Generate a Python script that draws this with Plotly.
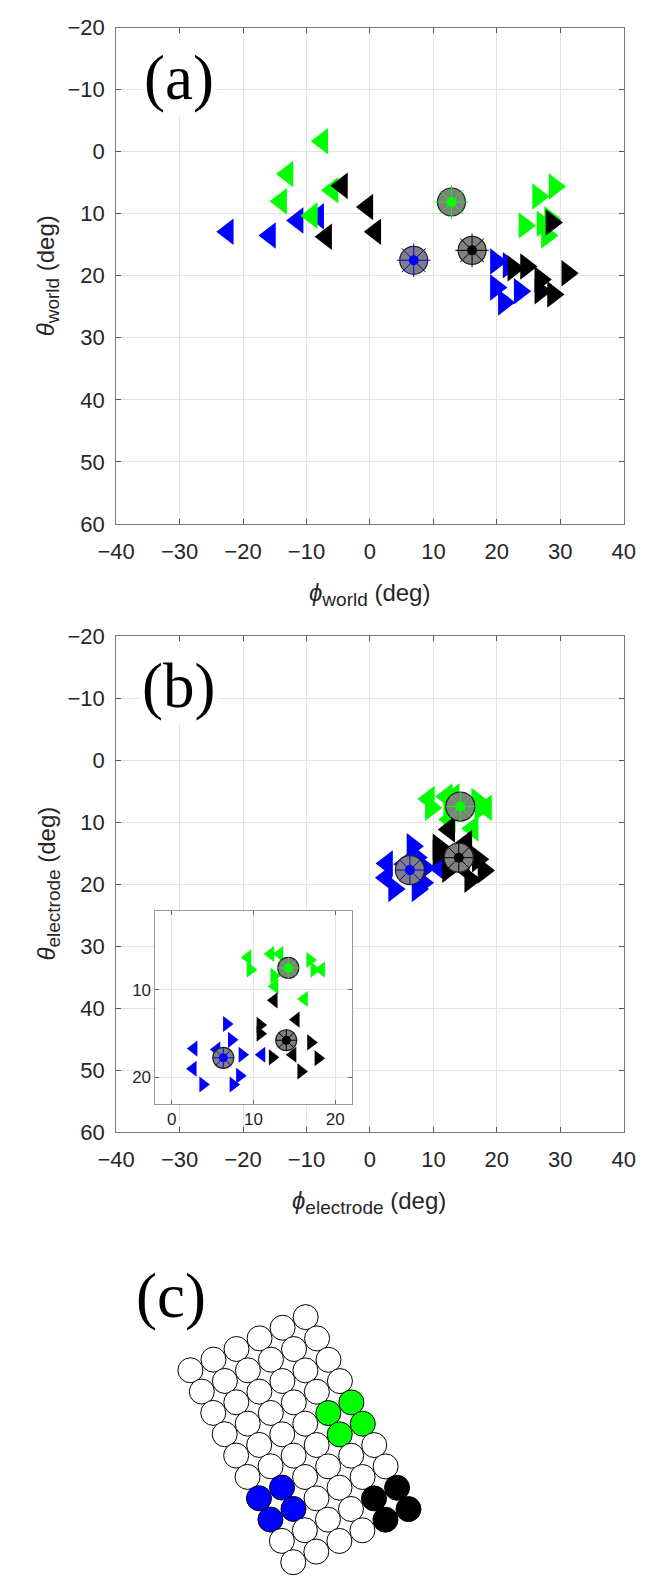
import plotly.graph_objects as go

# ---------------- data ----------------
# Panel (a): world coordinates (phi, theta) in degrees
A_BLUE_L_PHI = [-22.4, -15.75, -11.4, -8.15]
A_BLUE_L_THETA = [12.9, 13.5, 11.1, 10.4]
A_BLUE_R_PHI = [19.85, 21.85, 19.85, 23.6, 21.1]
A_BLUE_R_THETA = [17.7, 18.3, 21.9, 22.5, 24.3]
A_GREEN_L_PHI = [-7.5, -13.0, -14.0, -5.9, -9.15]
A_GREEN_L_THETA = [-1.7, 3.6, 8.0, 6.2, 10.3]
A_GREEN_R_PHI = [26.5, 29.1, 24.35, 27.2, 28.4, 27.9]
A_GREEN_R_THETA = [7.2, 5.6, 11.9, 11.6, 10.9, 13.5]
A_BLACK_L_PHI = [-4.4, -0.4, -6.9, 0.85]
A_BLACK_L_THETA = [5.5, 8.9, 13.7, 12.9]
A_BLACK_R_PHI = [28.6, 31.1, 22.6, 24.6, 26.85, 28.85, 26.85]
A_BLACK_R_THETA = [11.4, 19.6, 18.8, 18.5, 20.6, 23.0, 22.5]
A_CENTER_PHI = [6.9, 12.85, 16.1]      # blue, green, black
A_CENTER_THETA = [17.5, 8.1, 15.9]

# Panel (b) and inset: electrode coordinates (phi, theta) in degrees
B_BLUE_L_PHI = [2.7, 5.5, 11.0, 2.6]
B_BLUE_L_THETA = [16.7, 16.8, 17.4, 19.0]
B_BLUE_R_PHI = [6.7, 7.3, 8.6, 3.8, 8.3, 7.5]
B_BLUE_R_THETA = [13.9, 15.7, 17.4, 20.8, 19.8, 20.8]
B_GREEN_L_PHI = [9.3, 12.1, 13.2, 12.6, 16.2, 18.3]
B_GREEN_L_THETA = [6.3, 5.9, 5.9, 9.6, 11.05, 7.7]
B_GREEN_R_PHI = [9.6, 12.5, 16.9, 17.4]
B_GREEN_R_THETA = [7.7, 8.4, 6.6, 7.7]
B_BLACK_L_PHI = [12.5, 15.2, 14.8]
B_BLACK_L_THETA = [11.2, 13.4, 17.4]
B_BLACK_R_PHI = [10.8, 10.8, 17.0, 12.3, 17.9, 15.8]
B_BLACK_R_THETA = [14.0, 15.0, 16.0, 17.7, 17.8, 19.3]
B_CENTER_PHI = [6.3, 14.25, 14.0]
B_CENTER_THETA = [17.75, 7.5, 15.75]

CENTER_COLORS = ["#0000ff", "#00ff00", "#000000"]

# Panel (c): electrode array, 6 columns x 10 rows, highlighted groups
N_COLS = 6
N_ROWS = 10
GROUP_BLUE = [(0, 6), (1, 6), (0, 7), (1, 7)]
GROUP_GREEN = [(4, 4), (5, 4), (4, 5), (5, 5)]
GROUP_BLACK = [(4, 8), (5, 8), (4, 9), (5, 9)]

AX_TICKS = [-40, -30, -20, -10, 0, 10, 20, 30, 40]
AY_TICKS = [-20, -10, 0, 10, 20, 30, 40, 50, 60]

# ---------------- layout helpers ----------------
W, H = 650, 1587
def px_x(p):
    return p / W
def px_y(p):
    return 1 - p / H

FONT = "Liberation Sans, Arial, sans-serif"
TXT = "#262626"

def tick_text(vals):
    return [str(v).replace("-", "\u2212") for v in vals]

fig = go.Figure()

def add_tri(xs, ys, color, sym, xa, ya, size):
    fig.add_trace(go.Scatter(x=xs, y=ys, mode="markers", xaxis=xa, yaxis=ya,
                             marker=dict(symbol=sym, size=size, color=color, line=dict(width=0)),
                             showlegend=False, hoverinfo="skip", cliponaxis=False))

def add_centers(xs, ys, xa, ya, big, star, dot):
    fig.add_trace(go.Scatter(x=xs, y=ys, mode="markers", xaxis=xa, yaxis=ya,
                             marker=dict(symbol="circle", size=big, color="#808080",
                                         line=dict(width=1.2, color="#222222")),
                             showlegend=False, hoverinfo="skip", cliponaxis=False))
    fig.add_trace(go.Scatter(x=xs, y=ys, mode="markers", xaxis=xa, yaxis=ya,
                             marker=dict(symbol="asterisk-open", size=star, color=CENTER_COLORS,
                                         line=dict(width=1, color=CENTER_COLORS)),
                             showlegend=False, hoverinfo="skip", cliponaxis=False))
    fig.add_trace(go.Scatter(x=xs, y=ys, mode="markers", xaxis=xa, yaxis=ya,
                             marker=dict(symbol="circle", size=dot, color=CENTER_COLORS, line=dict(width=0)),
                             showlegend=False, hoverinfo="skip", cliponaxis=False))

# Panel (a)
TS = 23
add_tri(A_BLUE_L_PHI, A_BLUE_L_THETA, "#0000ff", "triangle-left", "x", "y", TS)
add_tri(A_BLUE_R_PHI, A_BLUE_R_THETA, "#0000ff", "triangle-right", "x", "y", TS)
add_tri(A_GREEN_L_PHI, A_GREEN_L_THETA, "#00ff00", "triangle-left", "x", "y", TS)
add_tri(A_GREEN_R_PHI, A_GREEN_R_THETA, "#00ff00", "triangle-right", "x", "y", TS)
add_tri(A_BLACK_L_PHI, A_BLACK_L_THETA, "#000000", "triangle-left", "x", "y", TS)
add_tri(A_BLACK_R_PHI, A_BLACK_R_THETA, "#000000", "triangle-right", "x", "y", TS)
add_centers(A_CENTER_PHI, A_CENTER_THETA, "x", "y", 28, 28, 10)

# Panel (b) main and inset
for xa, ya, s, big, star, dot in [("x2", "y2", TS, 29, 24, 10), ("x3", "y3", 14, 21, 18, 9)]:
    add_tri(B_BLUE_L_PHI, B_BLUE_L_THETA, "#0000ff", "triangle-left", xa, ya, s)
    add_tri(B_BLUE_R_PHI, B_BLUE_R_THETA, "#0000ff", "triangle-right", xa, ya, s)
    add_tri(B_GREEN_L_PHI, B_GREEN_L_THETA, "#00ff00", "triangle-left", xa, ya, s)
    add_tri(B_GREEN_R_PHI, B_GREEN_R_THETA, "#00ff00", "triangle-right", xa, ya, s)
    add_tri(B_BLACK_L_PHI, B_BLACK_L_THETA, "#000000", "triangle-left", xa, ya, s)
    add_tri(B_BLACK_R_PHI, B_BLACK_R_THETA, "#000000", "triangle-right", xa, ya, s)
    add_centers(B_CENTER_PHI, B_CENTER_THETA, xa, ya, big, star, dot)

# Panel (c): electrode lattice (pixel-space axes)
ORIGIN = (180.0, 1380.0)
VEC_COL = (24.2, -10.8)
VEC_ROW = (12.0, 21.67)
color_of = {}
for c in GROUP_BLUE:
    color_of[c] = "#0000ff"
for c in GROUP_GREEN:
    color_of[c] = "#00ff00"
for c in GROUP_BLACK:
    color_of[c] = "#000000"
ex, ey, ec = [], [], []
for j in range(N_ROWS):
    for i in range(N_COLS):
        ex.append(ORIGIN[0] + i * VEC_COL[0] + j * VEC_ROW[0])
        ey.append(ORIGIN[1] + i * VEC_COL[1] + j * VEC_ROW[1])
        ec.append(color_of.get((i, j), "#ffffff"))
fig.add_trace(go.Scatter(x=ex, y=ey, mode="markers", xaxis="x4", yaxis="y4",
                         marker=dict(symbol="circle", size=25, color=ec,
                                     line=dict(width=1, color="#000000")),
                         showlegend=False, hoverinfo="skip", cliponaxis=False))

# ---------------- axes ----------------
def main_axis(domain, ticks, rng, anchor, standoff):
    return dict(domain=domain, range=rng, tickvals=ticks, ticktext=tick_text(ticks),
                ticks="inside", ticklen=5, tickcolor="#555555", tickwidth=1,
                showline=True, linecolor="#7a7a7a", linewidth=1, mirror="ticks",
                showgrid=True, gridcolor="#e4e4e4", gridwidth=1, zeroline=False,
                tickfont=dict(family=FONT, size=22, color=TXT), anchor=anchor,
                ticklabelstandoff=standoff, fixedrange=True)

XD = [px_x(102), px_x(635)]
fig.update_layout(
    xaxis=main_axis(XD, AX_TICKS, [-40, 40], "y", 8),
    yaxis=main_axis([px_y(520), px_y(16)], AY_TICKS, [60, -20], "x", 6),
    xaxis2=main_axis(XD, AX_TICKS, [-40, 40], "y2", 8),
    yaxis2=main_axis([px_y(1138), px_y(634)], AY_TICKS, [60, -20], "x2", 6),
    xaxis3=dict(domain=[px_x(143.3), px_x(349.3)], range=[-2, 22], tickvals=[0, 10, 20],
                ticks="inside", ticklen=4, tickcolor="#666666", showline=True, linecolor="#999999",
                mirror="ticks", showgrid=True, gridcolor="#e4e4e4", zeroline=False,
                tickfont=dict(family=FONT, size=17, color=TXT), anchor="y3", fixedrange=True),
    yaxis3=dict(domain=[px_y(1109.3), px_y(913.3)], range=[23, 1], tickvals=[10, 20],
                ticks="inside", ticklen=4, tickcolor="#666666", showline=True, linecolor="#999999",
                mirror="ticks", showgrid=True, gridcolor="#e4e4e4", zeroline=False,
                tickfont=dict(family=FONT, size=17, color=TXT), anchor="x3", fixedrange=True),
    xaxis4=dict(domain=[0, 1], range=[0, W], visible=False, anchor="y4", fixedrange=True),
    yaxis4=dict(domain=[0, px_y(1200)], range=[H, 1200], visible=False, anchor="x4", fixedrange=True),
)

ann = []
def title_ann(text, x, y, angle=0):
    ann.append(dict(text=text, x=px_x(x), y=px_y(y), xref="paper", yref="paper",
                    showarrow=False, textangle=angle, xanchor="center", yanchor="middle",
                    font=dict(family=FONT, size=24, color=TXT)))

SUB = "<sub><span style='font-size:19px'>%s</span></sub>"
title_ann("<i>ϕ</i>" + SUB % "world" + " (deg)", 368, 592)
title_ann("<i>θ</i>" + SUB % "world" + " (deg)", 30, 268, -90)
title_ann("<i>ϕ</i>" + SUB % "electrode" + " (deg)", 368, 1210)
title_ann("<i>θ</i>" + SUB % "electrode" + " (deg)", 30, 886, -90)

for lab, xx, yy, bg in [("(a)", 168, 67, "white"), ("(b)", 168, 685, "white"),
                        ("(c)", 160, 1305, "rgba(0,0,0,0)")]:
    ann.append(dict(text=lab, x=px_x(xx), y=px_y(yy), xref="paper", yref="paper",
                    showarrow=False, xanchor="center", yanchor="middle", bgcolor=bg, borderpad=2,
                    font=dict(family="Liberation Serif, Times New Roman, serif", size=63, color="#000000")))

fig.update_layout(annotations=ann, width=W, height=H, autosize=False,
                  margin=dict(l=0, r=0, t=0, b=0),
                  paper_bgcolor="white", plot_bgcolor="white", showlegend=False)

fig.write_html("out.html", config={"displayModeBar": False},
               post_script="document.body.style.margin='0px';")
